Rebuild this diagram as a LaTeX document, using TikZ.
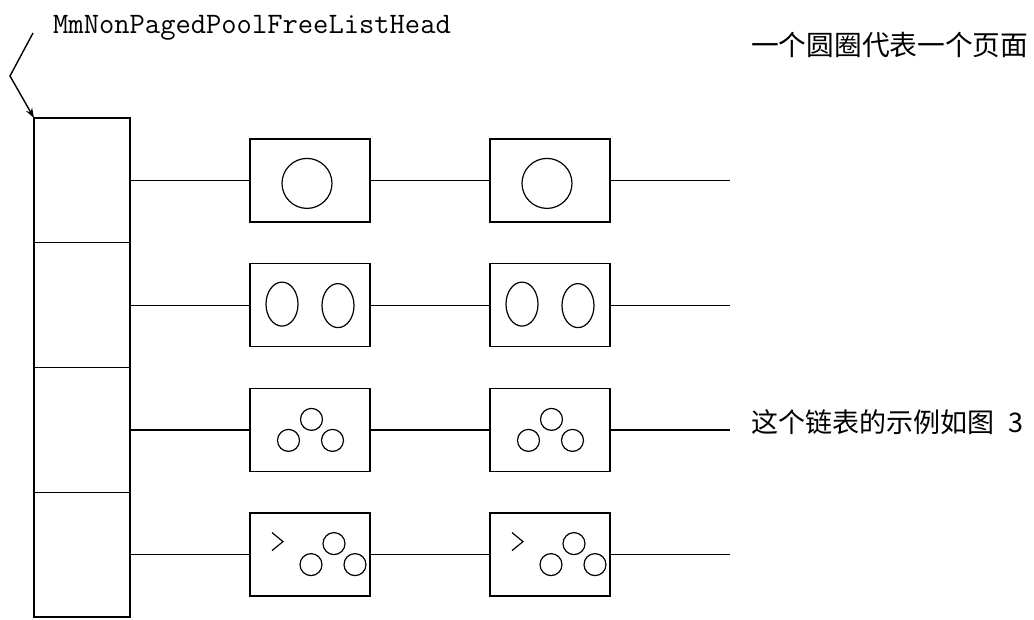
\documentclass[tikz,border=0pt]{standalone}
\usepackage{fontspec}
\newfontfamily\cjk{Noto Sans CJK SC}
\usetikzlibrary{arrows.meta}

\begin{document}
\begin{tikzpicture}[x=1pt,y=-1pt,line join=miter,
  cell/.style={draw,line width=1.4pt,minimum width=96pt,minimum height=124.75pt,inner sep=0pt,outer sep=0pt},
  page/.style={draw,line width=1.4pt,minimum width=120pt,minimum height=83pt,inner sep=0pt,outer sep=0pt},
  link/.style={line width=1.2pt},
  blob/.style={line width=1.2pt},
  pointer/.style={line width=1.4pt,-{Stealth[length=10pt,width=7pt]}}]
\useasboundingbox (0,0) rectangle (1034,619);

% list head array: four slots
\node[cell] (c1) at (82,180.4) {};
\node[cell] (c2) at (82,305.1) {};
\node[cell] (c3) at (82,429.9) {};
\node[cell] (c4) at (82,554.6) {};

% pages chained off each slot
\foreach \r/\y in {1/180.4,2/305.1,3/429.9,4/554.6}{
  \node[page] (b\r a) at (310,\y) {};
  \node[page] (b\r b) at (550,\y) {};
  \coordinate (e\r) at (730,\y);
  \draw[link] (c\r.east) -- (b\r a.west);
  \draw[link] (b\r a.east) -- (b\r b.west);
  \draw[link] (b\r b.east) -- (e\r);
}

% one page per block
\foreach \bx in {b1a,b1b}{
  \draw[blob] ([shift={(-3,3)}]\bx.center) circle[radius=25pt];
}
% two pages per block
\foreach \bx in {b2a,b2b}{
  \draw[blob] ([shift={(-28,-1)}]\bx.center) circle[x radius=16pt,y radius=22pt];
  \draw[blob] ([shift={(28,0.5)}]\bx.center) circle[x radius=16pt,y radius=22pt];
}
% three pages per block
\foreach \bx in {b3a,b3b}{
  \draw[blob] ([shift={(1.5,-10.5)}]\bx.center) circle[radius=11pt];
  \draw[blob] ([shift={(-21.5,10.5)}]\bx.center) circle[radius=11pt];
  \draw[blob] ([shift={(22.5,10.5)}]\bx.center) circle[radius=11pt];
}
% more than three pages per block
\foreach \bx in {b4a,b4b}{
  \draw[blob] ([shift={(-38,-22)}]\bx.center) -- ++(11,9) -- ++(-11,9);
  \draw[blob] ([shift={(24,-11)}]\bx.center) circle[radius=11pt];
  \draw[blob] ([shift={(1,10)}]\bx.center) circle[radius=11pt];
  \draw[blob] ([shift={(45,10)}]\bx.center) circle[radius=11pt];
}

% head label and its pointer
\node[anchor=base west,inner sep=0pt,font=\ttfamily\fontsize{29.7}{32}\selectfont] (lbl) at (53,33)
  {MmNonPagedPoolFreeListHead};
\coordinate (a0) at (33,33);
\coordinate (a1) at (10,76);
\draw[pointer] (a0) -- (a1) -- (c1.north west);

% notes
\node[anchor=west,inner sep=0pt,font=\cjk\fontsize{27.7}{30}\selectfont] (note1) at (751,45)
  {一个圆圈代表一个页面};
\node[anchor=west,inner sep=0pt,font=\cjk\fontsize{27}{30}\selectfont] (note2) at (751,422)
  {这个链表的示例如图\kern14pt 3};
\end{tikzpicture}
\end{document}
